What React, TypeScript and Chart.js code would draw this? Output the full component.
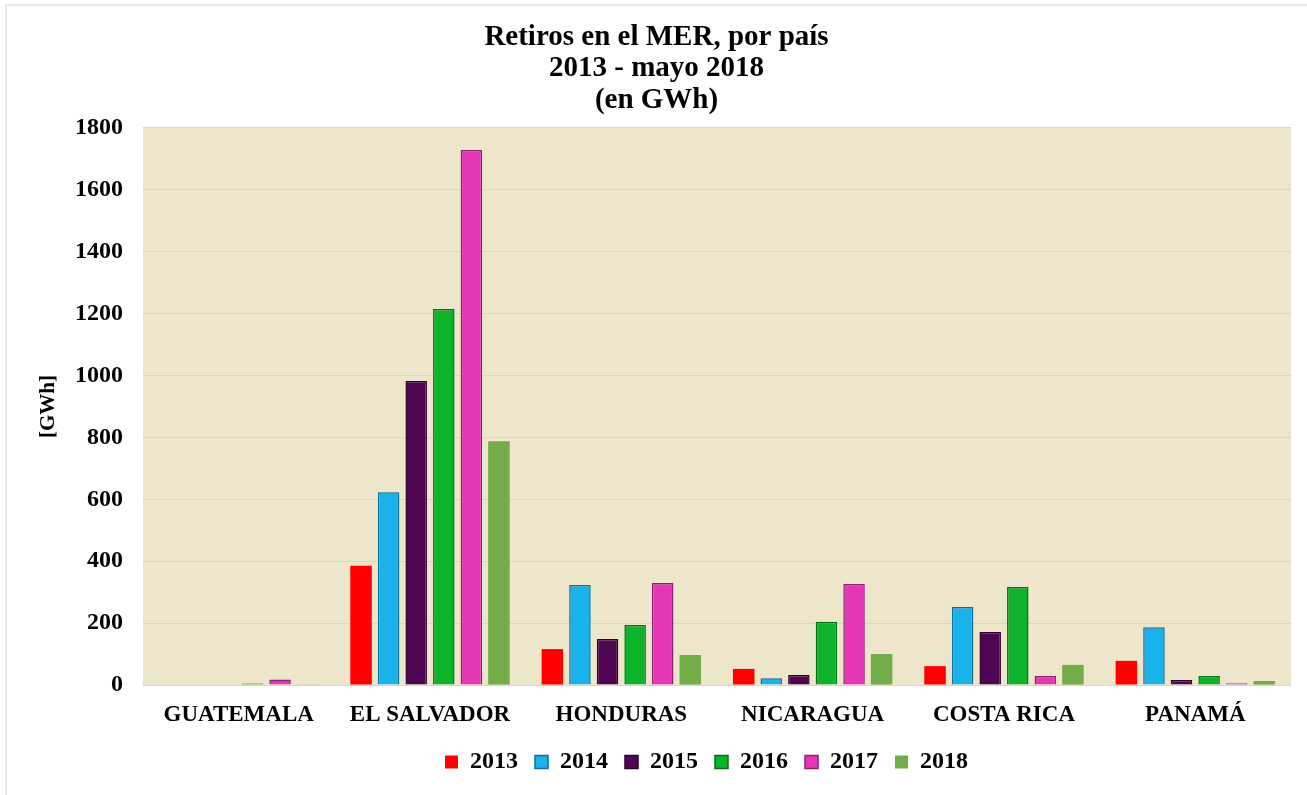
import React, { useEffect, useRef } from "react";
import { Chart, registerables } from "chart.js";

Chart.register(...registerables);

const countries = ["GUATEMALA", "EL SALVADOR", "HONDURAS", "NICARAGUA", "COSTA RICA", "PANAMÁ"];
const years = ["2013", "2014", "2015", "2016", "2017", "2018"];

const v2013 = [0, 385, 116, 52, 61, 78];
const v2014 = [0, 623, 323, 22, 252, 187];
const v2015 = [0, 982, 149, 32, 171, 16];
const v2016 = [5, 1215, 194, 204, 317, 29];
const v2017 = [18, 1729, 330, 326, 29, 6];
const v2018 = [2, 788, 97, 100, 65, 13];

const seriesValues = [v2013, v2014, v2015, v2016, v2017, v2018];
const fillColors = ["#FF0000", "#1AB2EA", "#4E0652", "#0DB32A", "#E537B5", "#72AD4A"];
const edgeColors = ["#FF0000", "#0F6E96", "#2E0030", "#067018", "#8E1E6E", "#72AD4A"];

const yTicks = [0, 200, 400, 600, 800, 1000, 1200, 1400, 1600, 1800];

const FONT = "'Liberation Serif', 'Times New Roman', serif";

const plotBg = {
  id: "plotBg",
  beforeDraw(chart: any) {
    const { ctx, chartArea } = chart;
    ctx.save();
    ctx.fillStyle = "#EEE6CA";
    ctx.fillRect(chartArea.left, chartArea.top, chartArea.right - chartArea.left, chartArea.bottom - chartArea.top);
    ctx.restore();
  },
};

const shiftBlocks = {
  id: "shiftBlocks",
  afterLayout(chart: any) {
    if (chart.titleBlock) {
      chart.titleBlock.left += 7;
      chart.titleBlock.right += 7;
    }
    if (chart.legend) {
      chart.legend.left += 57;
      chart.legend.right += 57;
    }
  },
};

export default function App() {
  const ref = useRef<HTMLCanvasElement | null>(null);

  useEffect(() => {
    if (!ref.current) return;
    const chart = new Chart(ref.current, {
      type: "bar",
      data: {
        labels: countries,
        datasets: years.map((y, i) => ({
          label: y,
          data: seriesValues[i],
          backgroundColor: fillColors[i],
          borderColor: edgeColors[i],
          borderWidth: i === 0 || i === 5 ? 0 : 1.5,
          barPercentage: 0.78,
          categoryPercentage: 0.865,
        })),
      },
      options: {
        responsive: false,
        animation: false,
        layout: { padding: { left: 8, right: 16, top: 0, bottom: 11 } },
        plugins: {
          tooltip: { enabled: false },
          title: {
            display: true,
            text: ["Retiros en el MER, por país", "2013 - mayo 2018", "(en GWh)"],
            color: "#000",
            font: { family: FONT, size: 29, weight: "bold", lineHeight: 1.08 },
            padding: { top: 22, bottom: 12 },
          },
          legend: {
            position: "bottom",
            labels: {
              color: "#000",
              font: { family: FONT, size: 24, weight: "bold" },
              boxWidth: 13,
              boxHeight: 13,
              padding: 17,
            },
          },
        },
        scales: {
          x: {
            grid: { display: false, drawTicks: false },
            border: { display: false },
            ticks: {
              color: "#000",
              font: { family: FONT, size: 23, weight: "bold" },
              padding: 16,
              maxRotation: 0,
            },
            afterFit(scale: any) {
              scale.height = 48;
            },
          },
          y: {
            min: 0,
            max: 1800,
            grid: { color: "#DED6B9", drawTicks: false, lineWidth: 1 },
            border: { display: false },
            afterBuildTicks(scale: any) {
              scale.ticks = yTicks.map((v) => ({ value: v }));
            },
            ticks: {
              color: "#000",
              font: { family: FONT, size: 24, weight: "bold" },
              padding: 20,
              callback: (v: any) => String(v),
            },
            title: {
              display: true,
              text: "[GWh]",
              color: "#000",
              font: { family: FONT, size: 21, weight: "bold" },
              padding: { top: 28, bottom: 0 },
            },
            afterFit(scale: any) {
              scale.width = 135;
            },
          },
        },
      },
      plugins: [plotBg, shiftBlocks],
    });
    return () => chart.destroy();
  }, []);

  return (
    <div style={{ position: "fixed", inset: 0, overflow: "hidden", background: "#fff" }}>
      <div
        style={{
          position: "absolute",
          left: 5,
          top: 4,
          width: 1400,
          height: 900,
          border: "2px solid #E8E8E8",
        }}
      />
      <canvas ref={ref} width={1307} height={795} style={{ position: "absolute", left: 0, top: 0 }} />
    </div>
  );
}
